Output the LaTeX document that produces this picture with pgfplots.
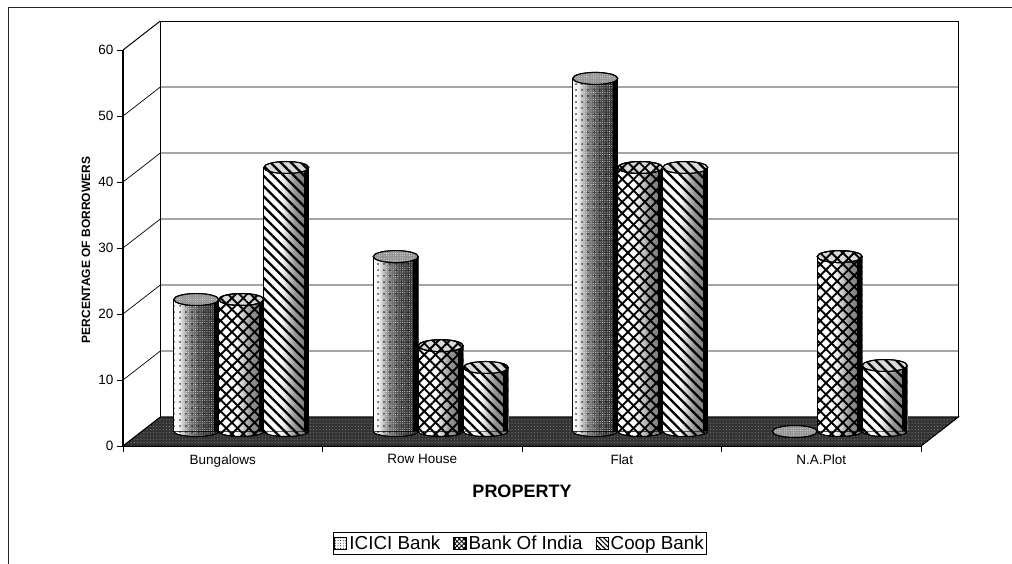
\documentclass[border=0pt]{standalone}
\usepackage{fontspec}
\setmainfont{Liberation Sans}
\usepackage{pgfplots}
\pgfplotsset{compat=1.18}
\usetikzlibrary{patterns.meta}

% Side lighting of the cylinders
\pgfdeclarehorizontalshading{cylA}{100bp}{color(0bp)=(white); color(25bp)=(white); color(31bp)=(black!6); color(42bp)=(black!50); color(55bp)=(black!72); color(70bp)=(black!80); color(75bp)=(black!80); color(100bp)=(black)}
\pgfdeclarehorizontalshading{cylB}{100bp}{color(0bp)=(white); color(25bp)=(white); color(44bp)=(white); color(60bp)=(black!42); color(75bp)=(black!55); color(100bp)=(black)}

\tikzset{
  stipple/.style={pattern={Dots[distance=6pt,radius=0.8pt]},pattern color=black},
  grain/.style={pattern={Dots[distance=2.3pt,radius=0.42pt]},pattern color=white},
  hatchup/.style={pattern={Lines[angle=45,distance=8pt,line width=1.9pt]},pattern color=black},
  hatchdown/.style={pattern={Lines[angle=-45,distance=8pt,line width=1.9pt]},pattern color=black},
  stripes/.style={pattern={Lines[angle=-45,distance=7.2pt,line width=2.3pt]},pattern color=black},
  nopattern/.style={},
}

% Cylinder tops
\pgfdeclareplotmark{capA}{\path[draw=black,line width=1pt,fill=black!42,postaction={grain}] (0,0) ellipse (22.5pt and 6pt);}
\pgfdeclareplotmark{capB}{\path[draw=black,line width=1pt,fill=black!15,postaction={hatchup},postaction={hatchdown}] (0,0) ellipse (22.5pt and 6pt);}
\pgfdeclareplotmark{capC}{\path[draw=black,line width=1pt,fill=black!15,postaction={stripes}] (0,0) ellipse (22.5pt and 6pt);}
% Cylinder bottoms: only the lower half of the ellipse shows
\newcommand{\basearc}{(-22.5pt,0pt) arc[start angle=180,end angle=360,x radius=22.5pt,y radius=5pt]}
\pgfdeclareplotmark{baseA}{\path[shade,shading=cylA,postaction={stipple},postaction={grain}] \basearc -- cycle; \draw[black,line width=1pt] \basearc;}
\pgfdeclareplotmark{baseB}{\path[shade,shading=cylB,postaction={hatchup},postaction={hatchdown}] \basearc -- cycle; \draw[black,line width=1pt] \basearc;}
\pgfdeclareplotmark{baseC}{\path[shade,shading=cylB,postaction={stripes}] \basearc -- cycle; \draw[black,line width=1pt] \basearc;}

% One cylinder body: #1 bar shift, #2 shading, #3 first overlay, #4 second overlay, #5 category, #6 value
\newcommand{\cylinder}[6]{%
  \addplot[forget plot,ybar,bar width=45pt,bar shift=#1pt,xshift=18.5pt,yshift=14.5pt,draw=none,shade,shading=#2] coordinates {(#5,#6)};
  \addplot[forget plot,ybar,bar width=45pt,bar shift=#1pt,xshift=18.5pt,yshift=14.5pt,draw=none,#3] coordinates {(#5,#6)};
  \addplot[forget plot,ybar,bar width=45pt,bar shift=#1pt,xshift=18.5pt,yshift=14.5pt,draw=none,#4] coordinates {(#5,#6)};
  \addplot[forget plot,black,line width=1pt,xshift={(#1-4)*1pt},yshift=14.5pt] coordinates {(#5,0) (#5,#6)};
  \addplot[forget plot,black,line width=5pt,xshift={(#1+38.5)*1pt},yshift=14.5pt] coordinates {(#5,0) (#5,#6)};
}

\begin{document}
\begin{tikzpicture}[x=1pt,y=1pt]
\path[use as bounding box] (0,0) rectangle (1012,564);
\draw[black!85,line width=0.9pt] (8,0) -- (8,557) -- (1012,557);
\begin{axis}[
  at={(123pt,118pt)}, anchor=south west,
  scale only axis, width=798pt, height=396pt,
  xmin=0, xmax=4, ymin=0, ymax=60,
  clip=false,
  axis x line*=bottom, axis y line*=left,
  axis line style={black,line width=1.4pt,-},
  tick align=outside,
  ytick={0,10,...,60},
  xtick={0,1,2,3,4}, xticklabels={},
  major tick length=6pt,
  tick style={black,line width=0.9pt},
  extra x ticks={0.5,1.5,2.5,3.5},
  extra x tick labels={Bungalows,Row House,Flat,N.A.Plot},
  extra x tick style={major tick length=0pt,xticklabel style={yshift=-5pt}},
  tick label style={font=\fontsize{13.5}{15}\selectfont},
  /pgf/number format/assume math mode=true,
  xlabel={\textbf{PROPERTY}},
  xlabel style={at={(axis description cs:0.5,-0.114)},anchor=center,font=\fontsize{18}{20}\selectfont},
  ylabel={\textbf{PERCENTAGE OF BORROWERS}},
  ylabel style={at={(axis description cs:-0.0464,0.495)},anchor=center,font=\fontsize{12}{14}\selectfont},
  legend style={at={(axis description cs:0.4975,-0.2460)},anchor=center,draw=black,line width=0.9pt,
    legend columns=3,font=\fontsize{18.8}{20}\selectfont,inner xsep=1pt,inner ysep=1.5pt,
    /tikz/every even column/.append style={column sep=11pt}},
]
% Floor, walls and gridlines of the box
\addplot[forget plot,fill=black!80,draw=black,line width=0.8pt,postaction={pattern={Dots[distance=3.2pt,radius=0.55pt]},pattern color=black!45}]
  coordinates {(0,0) (0.1875,4.4) (4.1875,4.4) (4,0) (0,0)};
\addplot[forget plot,black,line width=0.7pt] coordinates {(0.1875,4.4) (0.1875,64.4) (4.1875,64.4) (4.1875,4.4)};
\addplot[forget plot,black,line width=0.7pt] coordinates {(0,10) (0.1875,14.4) (4.1875,14.4)};
\addplot[forget plot,black,line width=0.7pt] coordinates {(0,20) (0.1875,24.4) (4.1875,24.4)};
\addplot[forget plot,black,line width=0.7pt] coordinates {(0,30) (0.1875,34.4) (4.1875,34.4)};
\addplot[forget plot,black,line width=0.7pt] coordinates {(0,40) (0.1875,44.4) (4.1875,44.4)};
\addplot[forget plot,black,line width=0.7pt] coordinates {(0,50) (0.1875,54.4) (4.1875,54.4)};
\addplot[forget plot,black,line width=1pt] coordinates {(0,60) (0.1875,64.4)};

% ICICI Bank
\addplot[forget plot,only marks,mark=baseA,xshift=-26.5pt,yshift=14.5pt] coordinates {(0.5,0) (1.5,0) (2.5,0)};
\cylinder{-45}{cylA}{stipple}{grain}{0.5}{20}
\cylinder{-45}{cylA}{stipple}{grain}{1.5}{26.5}
\cylinder{-45}{cylA}{stipple}{grain}{2.5}{53.5}
\addplot[forget plot,only marks,mark=capA,xshift=-26.5pt,yshift=14.5pt] coordinates {(0.5,20) (1.5,26.5) (2.5,53.5) (3.5,0)};

% Bank Of India
\addplot[forget plot,only marks,mark=baseB,xshift=18.5pt,yshift=14.5pt] coordinates {(0.5,0) (1.5,0) (2.5,0) (3.5,0)};
\cylinder{0}{cylB}{hatchup}{hatchdown}{0.5}{20}
\cylinder{0}{cylB}{hatchup}{hatchdown}{1.5}{13}
\cylinder{0}{cylB}{hatchup}{hatchdown}{2.5}{40}
\cylinder{0}{cylB}{hatchup}{hatchdown}{3.5}{26.5}
\addplot[forget plot,only marks,mark=capB,xshift=18.5pt,yshift=14.5pt] coordinates {(0.5,20) (1.5,13) (2.5,40) (3.5,26.5)};

% Coop Bank
\addplot[forget plot,only marks,mark=baseC,xshift=63.5pt,yshift=14.5pt] coordinates {(0.5,0) (1.5,0) (2.5,0) (3.5,0)};
\cylinder{45}{cylB}{stripes}{nopattern}{0.5}{40}
\cylinder{45}{cylB}{stripes}{nopattern}{1.5}{9.7}
\cylinder{45}{cylB}{stripes}{nopattern}{2.5}{40}
\cylinder{45}{cylB}{stripes}{nopattern}{3.5}{10}
\addplot[forget plot,only marks,mark=capC,xshift=63.5pt,yshift=14.5pt] coordinates {(0.5,40) (1.5,9.7) (2.5,40) (3.5,10)};

\addlegendimage{legend image code/.code={\draw[black,line width=1.2pt,fill=white,postaction={pattern={Dots[distance=2.6pt,radius=0.5pt]}}] (0pt,-6pt) rectangle (12pt,6pt);}}
\addlegendentry{ICICI Bank}
\addlegendimage{legend image code/.code={\draw[black,line width=1.2pt,fill=white,postaction={pattern={Lines[angle=45,distance=3.2pt,line width=0.8pt]}},postaction={pattern={Lines[angle=-45,distance=3.2pt,line width=0.8pt]}}] (0pt,-6pt) rectangle (12pt,6pt);}}
\addlegendentry{Bank Of India}
\addlegendimage{legend image code/.code={\draw[black,line width=1.2pt,fill=white,postaction={pattern={Lines[angle=-45,distance=3.4pt,line width=1.1pt]}}] (0pt,-6pt) rectangle (12pt,6pt);}}
\addlegendentry{Coop Bank}
\end{axis}
\end{tikzpicture}
\end{document}
